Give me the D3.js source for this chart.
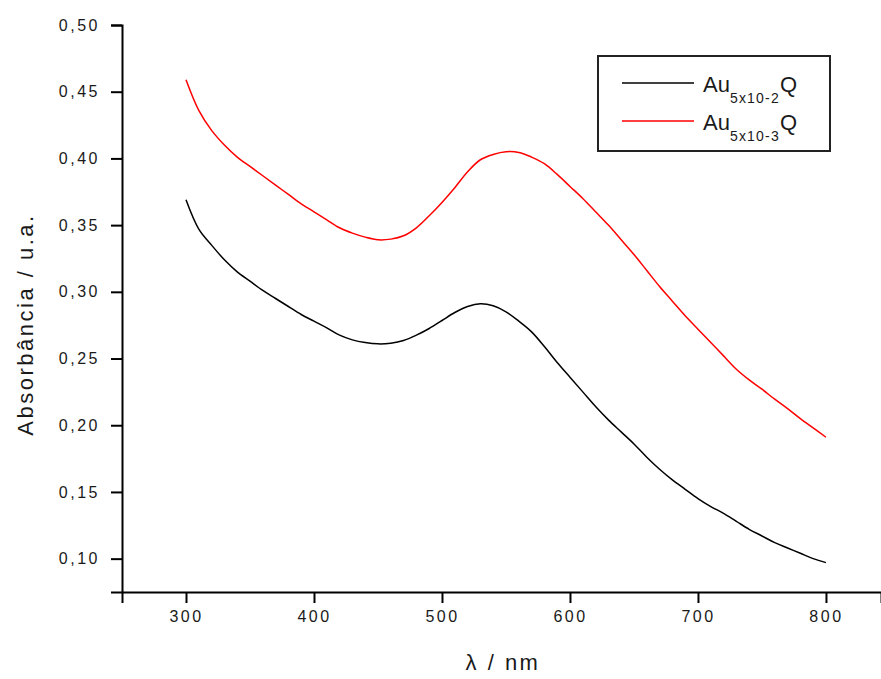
<!DOCTYPE html>
<html>
<head>
<meta charset="utf-8">
<script src="https://cdn.jsdelivr.net/npm/d3@7"></script>
<style>
  html, body { margin: 0; padding: 0; background: #fff; }
  #chart { width: 881px; height: 679px; }
  text { font-family: Arial, "Liberation Sans", sans-serif; fill: #1a1a1a; }
</style>
</head>
<body>
<div id="chart"></div>
<script>
// wavelengths (nm) shared by both spectra
const wavelengths = d3.range(300, 801, 10);

// Au 5x10-2 Q (black)
const absHigh = [
  0.369, 0.347, 0.335, 0.324, 0.315, 0.308, 0.301, 0.295, 0.289, 0.283,
  0.278, 0.273, 0.2675, 0.264, 0.262, 0.261, 0.2615, 0.2635, 0.2675, 0.2725,
  0.2785, 0.2845, 0.289, 0.291, 0.2895, 0.285, 0.278, 0.270, 0.259, 0.247,
  0.236, 0.225, 0.214, 0.204, 0.195, 0.186, 0.176, 0.167, 0.159, 0.152,
  0.145, 0.139, 0.134, 0.128, 0.122, 0.117, 0.112, 0.108, 0.104, 0.100,
  0.097
];

// Au 5x10-3 Q (red)
const absLow = [
  0.459, 0.436, 0.421, 0.410, 0.401, 0.394, 0.387, 0.380, 0.373, 0.366,
  0.360, 0.354, 0.348, 0.344, 0.341, 0.339, 0.3395, 0.342, 0.348, 0.357,
  0.367, 0.378, 0.390, 0.399, 0.403, 0.405, 0.4045, 0.401, 0.396, 0.388,
  0.379, 0.370, 0.360, 0.350, 0.339, 0.328, 0.316, 0.304, 0.293, 0.282,
  0.272, 0.262, 0.252, 0.242, 0.234, 0.227, 0.2195, 0.2125, 0.205, 0.198,
  0.191
];

const xMajor = [300, 400, 500, 600, 700, 800];
const xMinor = [250, 350, 450, 550, 650, 750];
const yMajor = [0.10, 0.15, 0.20, 0.25, 0.30, 0.35, 0.40, 0.45, 0.50];
const yMinor = [0.075, 0.125, 0.175, 0.225, 0.275, 0.325, 0.375, 0.425, 0.475];

const series = [
  { name: "5x10-2", color: "#000000", values: absHigh },
  { name: "5x10-3", color: "#ff0000", values: absLow }
];

const W = 881, H = 679;
const m = { left: 122, top: 25, right: 881, bottom: 592 };

const svg = d3.select("#chart").append("svg")
  .attr("width", W).attr("height", H)
  .attr("viewBox", `0 0 ${W} ${H}`);

const x = d3.scaleLinear().domain([250, 843]).range([m.left, m.right]);
const y = d3.scaleLinear().domain([0.075, 0.50]).range([m.bottom, m.top]);

const ptBR = d3.formatLocale({ decimal: ",", thousands: ".", grouping: [3], currency: ["", ""] });
const fmt = ptBR.format(".2f");

// curves
const line = d3.line()
  .x((d, i) => x(wavelengths[i]))
  .y(d => y(d))
  .curve(d3.curveCatmullRom);

svg.selectAll("path.spec")
  .data(series)
  .join("path")
  .attr("class", "spec")
  .attr("fill", "none")
  .attr("stroke", d => d.color)
  .attr("stroke-width", 1.5)
  .attr("d", d => line(d.values));

// axes
const gx = svg.append("g").attr("transform", `translate(0,${m.bottom})`);
gx.call(d3.axisBottom(x).tickValues(xMinor).tickSize(6).tickFormat(""));
gx.call(d3.axisBottom(x).tickValues(xMajor).tickSize(11).tickPadding(8).tickFormat(d3.format("d")));

const gy = svg.append("g").attr("transform", `translate(${m.left},0)`);
gy.call(d3.axisLeft(y).tickValues(yMinor).tickSize(6).tickFormat(""));
gy.call(d3.axisLeft(y).tickValues(yMajor).tickSize(11).tickPadding(11).tickFormat(fmt));

svg.selectAll(".domain").attr("stroke", "#000").attr("stroke-width", 2);
svg.selectAll(".tick line").attr("stroke", "#000").attr("stroke-width", 2);
svg.selectAll(".tick text")
  .style("font-size", "16px")
  .style("letter-spacing", "2.5px")
  .attr("fill", "#1a1a1a");

// axis titles
svg.append("text")
  .attr("transform", `translate(33,${(m.top + m.bottom) / 2 + 16}) rotate(-90)`)
  .attr("text-anchor", "middle")
  .style("font-size", "22px")
  .style("letter-spacing", "2.5px")
  .text("Absorbância / u.a.");

svg.append("text")
  .attr("x", 503)
  .attr("y", 670)
  .attr("text-anchor", "middle")
  .style("font-size", "22px")
  .style("letter-spacing", "2.5px")
  .text("λ / nm");

// legend
const legend = svg.append("g");
legend.append("rect")
  .attr("x", 598).attr("y", 56)
  .attr("width", 232).attr("height", 95)
  .attr("fill", "#fff")
  .attr("stroke", "#222")
  .attr("stroke-width", 2);

const rows = legend.selectAll("g.row")
  .data(series)
  .join("g")
  .attr("class", "row")
  .attr("transform", (d, i) => `translate(0,${83 + i * 38})`);

rows.append("line")
  .attr("x1", 622).attr("x2", 694)
  .attr("stroke", d => d.color)
  .attr("stroke-width", 1.5);

const label = rows.append("text")
  .attr("x", 703).attr("y", 9)
  .style("font-size", "22px");
label.append("tspan").text("Au");
label.append("tspan")
  .attr("dy", 11)
  .style("font-size", "14px")
  .style("letter-spacing", "1.2px")
  .text(d => d.name);
label.append("tspan")
  .attr("dy", -11)
  .text("Q");
</script>
</body>
</html>
